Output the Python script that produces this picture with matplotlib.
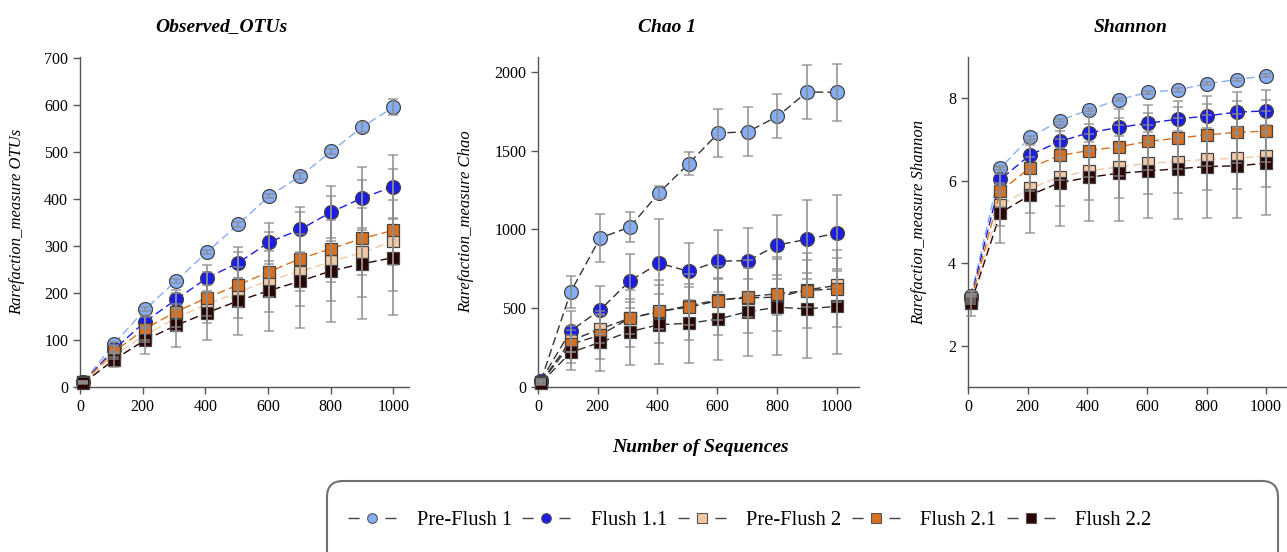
import matplotlib
matplotlib.use('Agg')
import matplotlib.pyplot as plt
from matplotlib.lines import Line2D
from matplotlib.patches import FancyBboxPatch
from matplotlib.transforms import IdentityTransform

plt.rcParams['font.family'] = ['Liberation Serif', 'DejaVu Serif']

# rarefaction depths
depths = [10, 109, 208, 307, 406, 505, 604, 703, 802, 901, 1000]

series_names = ['Pre-Flush 1', 'Flush 1.1', 'Pre-Flush 2', 'Flush 2.1', 'Flush 2.2']
series_colors = ['#86aef7', '#1c1ce8', '#f2c9a2', '#d9701f', '#2a0303']
series_markers = ['o', 'o', 's', 's', 's']

# Observed OTUs
otus_pf1 = [10, 92, 165, 226, 287, 346, 406, 448, 501, 553, 595]
otus_f11 = [10, 80, 139, 186, 232, 264, 308, 335, 372, 402, 426]
otus_pf2 = [10, 68, 110, 147, 176, 201, 227, 245, 267, 286, 310]
otus_f21 = [10, 75, 124, 160, 190, 217, 245, 273, 294, 316, 333]
otus_f22 = [8, 58, 100, 131, 158, 183, 205, 225, 247, 262, 275]
otus_err_pf1 = [1, 3, 4, 4, 5, 5, 5, 6, 6, 10, 17]
otus_err_f11 = [1, 8, 14, 20, 28, 33, 40, 48, 55, 65, 68]
otus_err_pf2 = [2, 8, 15, 20, 25, 30, 35, 40, 44, 47, 50]
otus_err_f21 = [2, 12, 25, 40, 55, 70, 85, 100, 112, 125, 130]
otus_err_f22 = [2, 15, 30, 45, 58, 72, 85, 100, 108, 118, 122]

# Chao 1
chao_pf1 = [40, 601, 946, 1014, 1233, 1418, 1611, 1620, 1717, 1872, 1870]
chao_f11 = [40, 355, 489, 672, 786, 733, 799, 801, 901, 937, 976]
chao_pf2 = [30, 293, 368, 436, 478, 516, 553, 565, 570, 616, 644]
chao_f21 = [30, 270, 329, 436, 480, 506, 548, 574, 591, 612, 623]
chao_f22 = [25, 219, 283, 351, 395, 404, 431, 478, 506, 495, 512]
chao_err_pf1 = [10, 100, 150, 95, 40, 70, 153, 155, 140, 173, 180]
chao_err_f11 = [10, 130, 150, 170, 280, 180, 195, 210, 190, 250, 240]
chao_err_pf2 = [10, 70, 90, 100, 110, 120, 130, 120, 115, 110, 105]
chao_err_f21 = [10, 120, 150, 180, 200, 210, 220, 230, 235, 240, 245]
chao_err_f22 = [10, 110, 180, 210, 250, 250, 260, 280, 305, 310, 305]

# Shannon
shan_pf1 = [3.21, 6.31, 7.05, 7.45, 7.72, 7.96, 8.14, 8.20, 8.35, 8.45, 8.54]
shan_f11 = [3.15, 6.03, 6.62, 6.95, 7.16, 7.29, 7.39, 7.49, 7.57, 7.66, 7.69]
shan_pf2 = [3.15, 5.40, 5.81, 6.09, 6.24, 6.33, 6.42, 6.46, 6.52, 6.54, 6.60]
shan_f21 = [3.10, 5.75, 6.31, 6.61, 6.73, 6.82, 6.95, 7.03, 7.11, 7.17, 7.20]
shan_f22 = [3.03, 5.22, 5.65, 5.95, 6.08, 6.18, 6.23, 6.29, 6.34, 6.36, 6.42]
shan_err_pf1 = [0.05, 0.05, 0.04, 0.04, 0.04, 0.04, 0.04, 0.04, 0.04, 0.04, 0.04]
shan_err_f11 = [0.05, 0.30, 0.35, 0.40, 0.45, 0.45, 0.45, 0.45, 0.48, 0.50, 0.50]
shan_err_pf2 = [0.10, 0.50, 0.60, 0.70, 0.70, 0.75, 0.75, 0.75, 0.75, 0.75, 0.75]
shan_err_f21 = [0.10, 0.40, 0.55, 0.60, 0.65, 0.70, 0.70, 0.75, 0.75, 0.75, 0.75]
shan_err_f22 = [0.30, 0.73, 0.92, 1.06, 1.06, 1.16, 1.13, 1.22, 1.24, 1.26, 1.26]

panels = [
    dict(title='Observed_OTUs', ylabel='Rarefaction_measure OTUs',
         values=[otus_pf1, otus_f11, otus_pf2, otus_f21, otus_f22],
         errors=[otus_err_pf1, otus_err_f11, otus_err_pf2, otus_err_f21, otus_err_f22],
         rect=[80 / 1287, 0.299, 329 / 1287, 0.598], xlim=(0, 1050), ylim=(0, 702),
         yticks=[0, 100, 200, 300, 400, 500, 600, 700], dark_lines=False,
         title_x=221, ylabel_x=17),
    dict(title='Chao 1', ylabel='Rarefaction_measure Chao',
         values=[chao_pf1, chao_f11, chao_pf2, chao_f21, chao_f22],
         errors=[chao_err_pf1, chao_err_f11, chao_err_pf2, chao_err_f21, chao_err_f22],
         rect=[538 / 1287, 0.299, 321 / 1287, 0.598], xlim=(0, 1075), ylim=(0, 2095),
         yticks=[0, 500, 1000, 1500, 2000], dark_lines=True,
         title_x=667, ylabel_x=466),
    dict(title='Shannon', ylabel='Rarefaction_measure Shannon',
         values=[shan_pf1, shan_f11, shan_pf2, shan_f21, shan_f22],
         errors=[shan_err_pf1, shan_err_f11, shan_err_pf2, shan_err_f21, shan_err_f22],
         rect=[968 / 1287, 0.299, 319 / 1287, 0.598], xlim=(0, 1070), ylim=(1, 9),
         yticks=[2, 4, 6, 8], dark_lines=False,
         title_x=1131, ylabel_x=919),
]

fig = plt.figure(figsize=(12.87, 5.52), dpi=100, facecolor='white')

for p in panels:
    ax = fig.add_axes(p['rect'])
    for i in range(len(series_names)):
        vals = p['values'][i]
        errs = p['errors'][i]
        line_color = '#333333' if p['dark_lines'] else series_colors[i]
        ms = 10 if series_markers[i] == 'o' else 8.8
        ax.plot(depths, vals, linestyle=(0, (6, 3)), color=line_color, lw=1.0,
                marker=series_markers[i], markersize=ms, markerfacecolor=series_colors[i],
                markeredgecolor='#444444', markeredgewidth=0.9, zorder=3, clip_on=False)
        ax.errorbar(depths, vals, yerr=errs, fmt='none', ecolor='#8c8c8c', elinewidth=1.3,
                    capsize=3.3, capthick=1.1, alpha=0.85, zorder=4, clip_on=False)
    ax.set_xlim(*p['xlim'])
    ax.set_ylim(*p['ylim'])
    ax.set_xticks([0, 200, 400, 600, 800, 1000])
    ax.set_yticks(p['yticks'])
    for s in ['top', 'right']:
        ax.spines[s].set_visible(False)
    for s in ['left', 'bottom']:
        ax.spines[s].set_color('#555555')
        ax.spines[s].set_linewidth(1.0)
    ax.tick_params(direction='out', length=5, width=1, color='#555555',
                   labelsize=11.5, labelcolor='black')
    fig.text(p['title_x'] / 1287, 1 - 27 / 552, p['title'], ha='center', va='center',
             fontsize=14, fontweight='bold', fontstyle='italic')
    fig.text(p['ylabel_x'] / 1287, 1 - 222 / 552, p['ylabel'], ha='center', va='center',
             rotation=90, fontsize=12, fontstyle='italic')

fig.text(701 / 1287, 1 - 447 / 552, 'Number of Sequences', ha='center', va='center',
         fontsize=14, fontweight='bold', fontstyle='italic')

# legend box
box = FancyBboxPatch((327, -30), 951, 101, boxstyle='round,pad=0,rounding_size=16',
                     transform=IdentityTransform(), facecolor='white', edgecolor='#707070',
                     linewidth=1.5)
fig.add_artist(box)

handles = [
    Line2D([0], [0], linestyle=(0, (8, 18.6)), color='#444444', lw=1.0,
           marker=series_markers[i], markersize=7, markerfacecolor=series_colors[i],
           markeredgecolor='#555555', markeredgewidth=0.8, label=series_names[i])
    for i in range(len(series_names))
]
fig.legend(handles=handles, loc='center', bbox_to_anchor=(750 / 1287, 1 - 520 / 552),
           ncol=5, frameon=False, fontsize=14.8, handlelength=2.34, handletextpad=1.0,
           columnspacing=0.5)

plt.savefig('out.png', dpi=100, facecolor='white')
